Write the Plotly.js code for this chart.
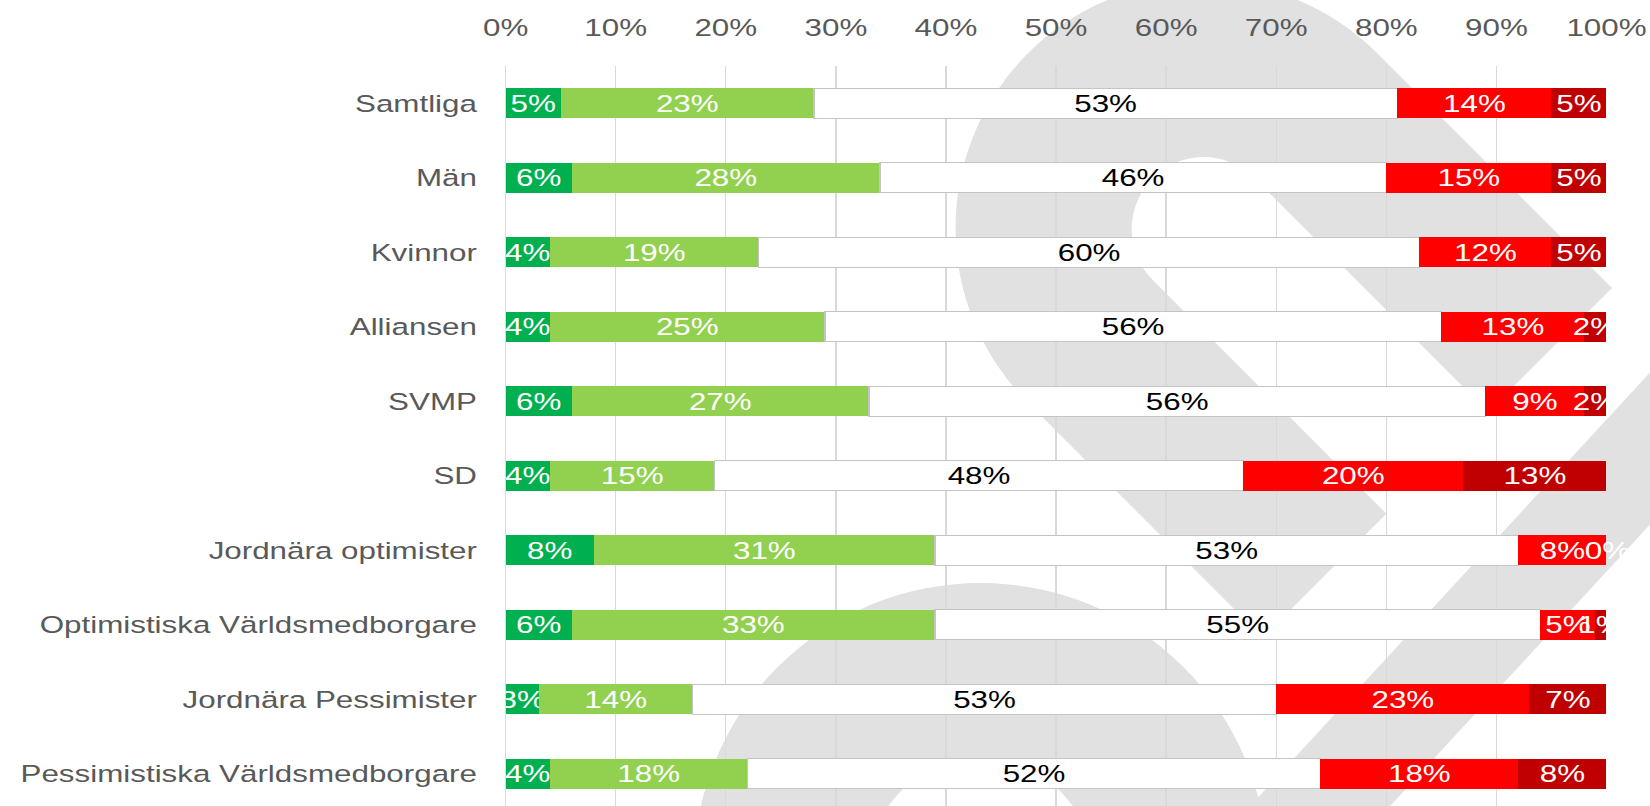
<!DOCTYPE html>
<html>
<head>
<meta charset="utf-8">
<script src="https://cdn.plot.ly/plotly-3.0.1.min.js"></script>
<style>
  html, body { margin: 0; padding: 0; background: #ffffff; overflow: hidden; }
  #wrap { width: 1650px; height: 806px; overflow: hidden; position: relative; }
  #chart { position: absolute; left: 0; top: 0; transform-origin: 0 0; }
</style>
</head>
<body>
<div id="wrap"><div id="chart"></div></div>
<script>
// ---- data ----
var categories = [
  "Samtliga", "Män", "Kvinnor", "Alliansen", "SVMP", "SD",
  "Jordnära optimister", "Optimistiska Världsmedborgare",
  "Jordnära Pessimister", "Pessimistiska Världsmedborgare"
];
var seriesNames = ["Mycket bättre", "Något bättre", "Oförändrat", "Något sämre", "Mycket sämre"];
var mycketBattre = [5, 6, 4, 4, 6, 4, 8, 6, 3, 4];
var nagotBattre  = [23, 28, 19, 25, 27, 15, 31, 33, 14, 18];
var oforandrat   = [53, 46, 60, 56, 56, 48, 53, 55, 53, 52];
var nagotSamre   = [14, 15, 12, 13, 9, 20, 8, 5, 23, 18];
var mycketSamre  = [5, 5, 5, 2, 2, 13, 0, 1, 7, 8];
var xTickVals = [0, 10, 20, 30, 40, 50, 60, 70, 80, 90, 100];

// ---- styles ----
var seriesValues = [mycketBattre, nagotBattre, oforandrat, nagotSamre, mycketSamre];
var barColors  = ["#00B050", "#92D050", "#FFFFFF", "#FF0000", "#C00000"];
var textColors = ["#FFFFFF", "#FFFFFF", "#000000", "#FFFFFF", "#FFFFFF"];
var lineColors = ["#00B050", "#92D050", "#C4C4C4", "#FF0000", "#C00000"];
var lineWidths = [0, 0, 1, 0, 0];

var FONT = "Liberation Sans, Arial, Helvetica, sans-serif";
var FS = 24.5;
var W = 1289, H = 811;            // drawn narrower, then stretched to 1650 px wide like the reference artwork
var M = { l: 394.5, r: 34.4, t: 66, b: 0 };

document.getElementById("chart").style.transform = "scale(" + (1650 / W) + ",1)";

function pct(v) { return v + "%"; }

var traces = seriesValues.map(function (vals, k) {
  return {
    type: "bar",
    orientation: "h",
    name: seriesNames[k],
    y: categories,
    x: vals,
    text: vals.map(pct),
    marker: { color: barColors[k], line: { color: lineColors[k], width: lineWidths[k] } },
    textposition: "inside",
    insidetextanchor: "middle",
    textangle: 0,
    constraintext: "none",
    cliponaxis: k !== seriesValues.length - 1,
    textfont: { family: FONT, size: FS, color: textColors[k] },
    hoverinfo: "skip"
  };
});

// labels for zero-width segments (Plotly does not draw inside text for them)
var annotations = [];
for (var i = 0; i < categories.length; i++) {
  var cum = 0;
  for (var k = 0; k < seriesValues.length; k++) {
    var v = seriesValues[k][i];
    if (v === 0) {
      annotations.push({
        x: cum, y: categories[i], xref: "x", yref: "y",
        text: pct(v), showarrow: false, xanchor: "center", yanchor: "middle",
        font: { family: FONT, size: FS, color: textColors[k] }
      });
    }
    cum += v;
  }
}

// background watermark (final-pixel coordinates)
var svg = "<svg xmlns='http://www.w3.org/2000/svg' width='1650' height='811' viewBox='0 0 1650 811' preserveAspectRatio='none'>" +
  "<g fill='#e1e1e1'>" +
  "<path d='M1376.7,53.3 L1611.5,288.1 L1487.7,411.9 L1252.9,177.1 A72,72 0 0 0 1151.1,278.9 L1385.9,513.7 L1262.1,637.5 L1027.3,402.7 A247,247 0 0 1 1376.7,53.3 Z'/>" +
  "<path fill-rule='evenodd' d='M693,870 A287,287 0 1 1 1267,870 A287,287 0 1 1 693,870 Z M868,870 A112,112 0 1 0 1092,870 A112,112 0 1 0 868,870 Z'/>" +
  "<path d='M1245,811 L1385,811 L1720,448 L1720,296 Z'/>" +
  "</g></svg>";
var pw = W - M.l - M.r, ph = H - M.t - M.b;

var layout = {
  width: W, height: H,
  margin: M,
  barmode: "stack",
  bargap: 0.6,
  showlegend: false,
  paper_bgcolor: "#FFFFFF",
  plot_bgcolor: "rgba(0,0,0,0)",
  font: { family: FONT, size: FS, color: "#595959" },
  xaxis: {
    side: "top",
    range: [0, 100],
    tickvals: xTickVals,
    ticktext: xTickVals.map(pct),
    showgrid: true, gridcolor: "#D9D9D9", gridwidth: 1,
    zeroline: true, zerolinecolor: "#D9D9D9", zerolinewidth: 1,
    showline: false,
    ticks: "outside", ticklen: 19, tickcolor: "rgba(0,0,0,0)",
    tickfont: { family: FONT, size: FS, color: "#595959" },
    fixedrange: true
  },
  yaxis: {
    type: "category",
    autorange: "reversed",
    showgrid: false, zeroline: false, showline: false,
    ticks: "outside", ticklen: 16.5, tickcolor: "rgba(0,0,0,0)",
    tickfont: { family: FONT, size: FS, color: "#595959" },
    fixedrange: true
  },
  annotations: annotations,
  images: [{
    source: "data:image/svg+xml;charset=utf-8," + encodeURIComponent(svg),
    xref: "paper", yref: "paper",
    x: -M.l / pw, y: 1 + M.t / ph,
    sizex: W / pw, sizey: H / ph,
    xanchor: "left", yanchor: "top",
    sizing: "stretch", layer: "below"
  }]
};

Plotly.newPlot("chart", traces, layout, { displayModeBar: false, staticPlot: true });
</script>
</body>
</html>
